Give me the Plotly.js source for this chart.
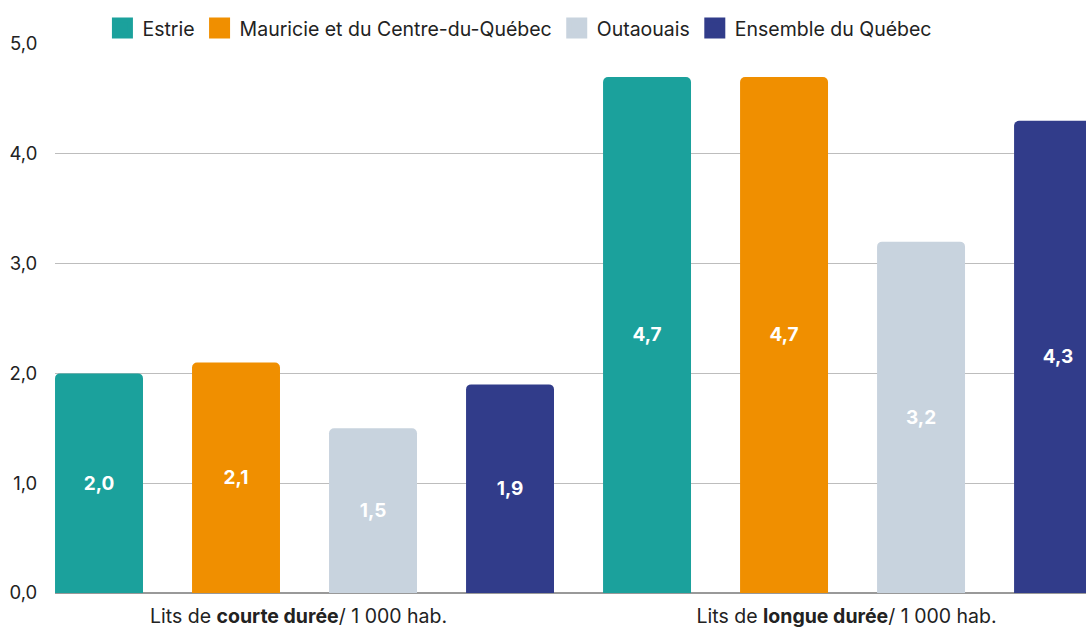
<!DOCTYPE html>
<html>
<head>
<meta charset="utf-8">
<script src="https://cdn.plot.ly/plotly-3.0.1.min.js"></script>
<style>
html,body{margin:0;padding:0;background:#fff;}
#chart{width:1086px;height:628px;}
</style>
</head>
<body>
<div id="chart"></div>
<script>
const categories = ["Lits de <b>courte durée</b>/ 1 000 hab.", "Lits de <b>longue durée</b>/ 1 000 hab."];
const seriesNames = ["Estrie", "Mauricie et du Centre-du-Québec", "Outaouais", "Ensemble du Québec"];
const estrie = [2.0, 4.7];
const mauricie = [2.1, 4.7];
const outaouais = [1.5, 3.2];
const ensemble = [1.9, 4.3];
const yTicks = [0, 1, 2, 3, 4, 5];
const colors = ["#1BA19C", "#F08F00", "#C8D3DE", "#313C8A"];

const values = [estrie, mauricie, outaouais, ensemble];
const barTraces = values.map((v, i) => ({
  type: "bar",
  name: seriesNames[i],
  legendgroup: seriesNames[i],
  showlegend: false,
  x: categories,
  y: v,
  marker: {color: colors[i]},
  text: v.map(d => d.toFixed(1).replace(".", ",")),
  textposition: "inside",
  insidetextanchor: "middle",
  textangle: 0,
  textfont: {family: "Inter, sans-serif", size: 19, color: "#ffffff", weight: 700},
  hoverinfo: "skip"
}));
// legend-only entries (large square swatches), no data points drawn
const legendTraces = seriesNames.map((n, i) => ({
  type: "scatter",
  mode: "markers",
  name: n,
  legendgroup: n,
  showlegend: true,
  x: [categories[0]],
  y: [null],
  marker: {symbol: "square", size: 16, color: colors[i], line: {color: colors[i], width: 5}},
  hoverinfo: "skip"
}));

const layout = {
  width: 1086,
  height: 628,
  margin: {l: 55, r: 0, t: 44, b: 35, pad: 0},
  paper_bgcolor: "#ffffff",
  plot_bgcolor: "#ffffff",
  barmode: "group",
  bargap: 0,
  bargroupgap: 0.358,
  barcornerradius: 5,
  separators: ",.",
  font: {family: "Inter, sans-serif", color: "#222222"},
  showlegend: true,
  legend: {
    orientation: "h",
    x: 0.046, xanchor: "left",
    y: 0.993, yanchor: "bottom",
    font: {size: 19.5, color: "#222222"},
    bgcolor: "rgba(255,255,255,0)",
    itemclick: false,
    traceorder: "normal",
    itemwidth: 30
  },
  xaxis: {
    type: "category",
    range: [-0.4553, 1.426],
    showgrid: false,
    zeroline: false,
    showline: false,
    ticks: "outside",
    ticklen: 6,
    tickcolor: "rgba(0,0,0,0)",
    ticklabelshift: -6,
    tickfont: {size: 19.5, color: "#222222"},
    fixedrange: true
  },
  yaxis: {
    range: [0, 5],
    tickvals: yTicks,
    tickformat: ".1f",
    showgrid: true,
    gridcolor: "#BDBDBD",
    gridwidth: 1,
    zeroline: true,
    zerolinecolor: "#999999",
    zerolinewidth: 2,
    showline: false,
    ticks: "outside",
    ticklen: 13,
    tickcolor: "rgba(0,0,0,0)",
    tickfont: {size: 18.5, color: "#222222"},
    fixedrange: true
  }
};

Plotly.newPlot("chart", barTraces.concat(legendTraces), layout, {displayModeBar: false, staticPlot: true});
</script>
</body>
</html>
